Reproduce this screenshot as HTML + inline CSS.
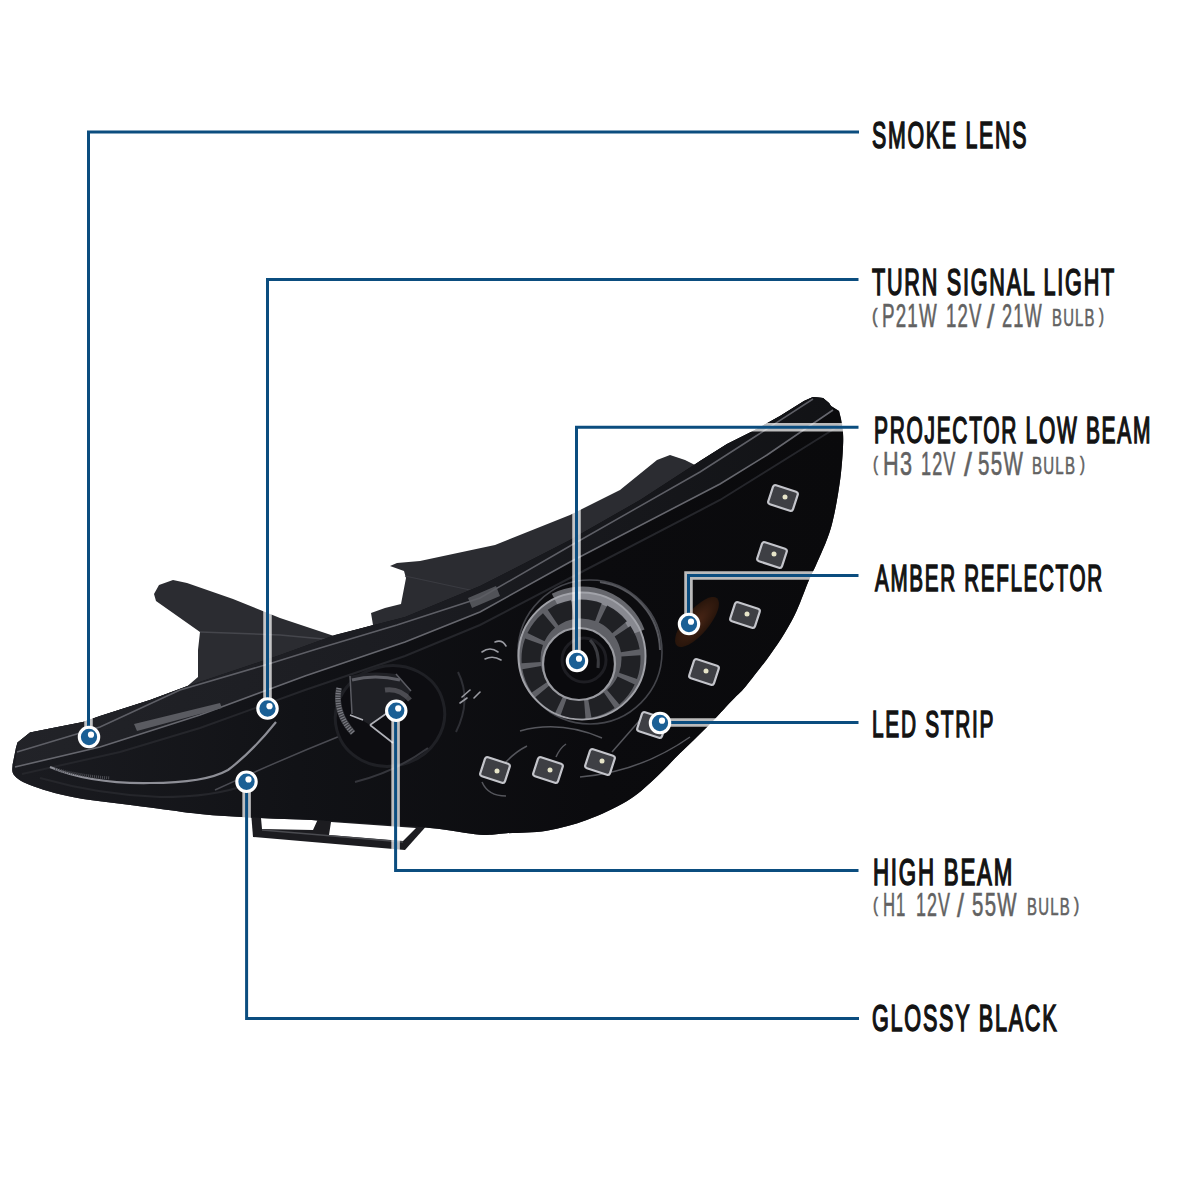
<!DOCTYPE html>
<html><head><meta charset="utf-8"><style>
html,body{margin:0;padding:0;background:#fff;}
body{width:1200px;height:1200px;position:relative;overflow:hidden;}
.tx{position:absolute;font-family:"Liberation Sans",sans-serif;font-weight:normal;-webkit-text-stroke:1.2px;line-height:1;white-space:pre;transform-origin:0 0;}
svg{position:absolute;left:0;top:0;}
</style></head><body>
<svg width="1200" height="1200" viewBox="0 0 1200 1200">
<defs>
<linearGradient id="lg" x1="0" y1="0" x2="850" y2="0" gradientUnits="userSpaceOnUse">
<stop offset="0" stop-color="#1b1c21"/><stop offset="0.35" stop-color="#111216"/><stop offset="0.7" stop-color="#0b0b0e"/><stop offset="1" stop-color="#0a0a0c"/>
</linearGradient>
<radialGradient id="amb" cx="0.5" cy="0.5" r="0.5"><stop offset="0" stop-color="#4a2616"/><stop offset="1" stop-color="#28150b"/></radialGradient>
<linearGradient id="rb" x1="0" y1="0" x2="850" y2="0" gradientUnits="userSpaceOnUse"><stop offset="0" stop-color="#222328"/><stop offset="0.5" stop-color="#1b1c21"/><stop offset="1" stop-color="#111215"/></linearGradient>
</defs>
<g id="body">
<path d="M251 812 L430 822 L405 850 L253 837 Z" fill="#1c1c20"/>
<path d="M261 818 L318 819 L313 830 L262 829 Z M331 822 L416 828 L403 841 L329 835 Z" fill="#fff"/>
<path d="M262 830 L403 842" stroke="#4a4b50" stroke-width="1.5" fill="none"/>
<path id="housing" fill="#2b2c31" d="M16 747.5 L17.5 742.5 L30 732.5 L50 728.5 L83 722 L100 716 L150 700 L187.5 686 L198 677 L198 650 L200 632 L156 601 L154 594 L159 585 L173 580 L187 583 L233 599 L280 618 L334 636 L373 625 L371 613 L385 608 L401 604 L406 578 L404 571 L390 566 L397 563 L420 561 L495 545 L570 515 L620 490 L657 460 L670 455 L685 460 L695 465 L700 461 L727 444 L753 431 L780 416 L804 401 L813 397 L823 398 L829 403 L831 406 L839 411 L841 419 C841.3 421.3 842.7 428.3 843.0 433.0 C843.3 437.7 843.3 440.3 843.0 447.0 C842.7 453.7 842.0 464.2 841.0 473.0 C840.0 481.8 838.5 491.5 837.0 500.0 C835.5 508.5 833.8 517.0 832.0 524.0 C830.2 531.0 828.7 535.2 826.0 542.0 C823.3 548.8 818.8 558.7 816.0 565.0 C813.2 571.3 812.2 572.5 809.0 580.0 C805.8 587.5 801.0 601.2 797.0 610.0 C793.0 618.8 789.5 625.0 785.0 632.5 C780.5 640.0 775.0 648.0 770.0 655.0 C765.0 662.0 759.5 668.8 755.0 674.5 C750.5 680.2 746.8 685.2 743.0 689.5 C739.2 693.8 738.5 693.8 732.5 700.0 C726.5 706.2 715.8 718.1 707.0 727.0 C698.2 735.9 689.0 744.5 680.0 753.3 C671.0 762.1 662.2 772.0 653.3 780.0 C644.4 788.0 637.8 794.6 626.7 801.3 C615.6 808.0 600.0 815.1 586.7 820.0 C573.4 824.9 560.0 828.5 546.7 830.7 C533.4 832.9 517.8 832.6 506.7 833.3 C495.6 834.0 492.8 835.6 480.0 834.7 C467.2 833.8 451.7 830.0 430.0 828.0 C408.3 826.0 371.7 823.9 350.0 822.5 C328.3 821.1 316.7 820.3 300.0 819.5 C283.3 818.7 266.7 818.4 250.0 817.5 C233.3 816.6 216.7 815.7 200.0 814.0 C183.3 812.3 170.8 810.2 150.0 807.5 C129.2 804.8 95.0 801.2 75.0 797.5 C55.0 793.8 40.2 788.8 30.0 785.0 C19.8 781.2 16.9 778.3 14.0 775.0 C11.1 771.7 12.8 766.7 12.5 765.0 Z"/>
<path d="M200 632 L280 635 L334 640" stroke="#45464c" stroke-width="1.5" fill="none"/>
<path d="M405 576 L470 590 L540 600" stroke="#3a3b41" stroke-width="1.2" fill="none"/>
<path id="lens" fill="url(#lg)" d="M16 747.5 L17.5 742.5 L30 732.5 L50 728.5 L83 722 L100 716 L150 700 L187.5 686 L280 655 L335 635 L405 617 L480 586 L570 540 L640 500 L700 461 L727 444 L753 431 L780 416 L804 401 L813 397 L823 398 L829 403 L831 406 L839 411 L841 419 C841.3 421.3 842.7 428.3 843.0 433.0 C843.3 437.7 843.3 440.3 843.0 447.0 C842.7 453.7 842.0 464.2 841.0 473.0 C840.0 481.8 838.5 491.5 837.0 500.0 C835.5 508.5 833.8 517.0 832.0 524.0 C830.2 531.0 828.7 535.2 826.0 542.0 C823.3 548.8 818.8 558.7 816.0 565.0 C813.2 571.3 812.2 572.5 809.0 580.0 C805.8 587.5 801.0 601.2 797.0 610.0 C793.0 618.8 789.5 625.0 785.0 632.5 C780.5 640.0 775.0 648.0 770.0 655.0 C765.0 662.0 759.5 668.8 755.0 674.5 C750.5 680.2 746.8 685.2 743.0 689.5 C739.2 693.8 738.5 693.8 732.5 700.0 C726.5 706.2 715.8 718.1 707.0 727.0 C698.2 735.9 689.0 744.5 680.0 753.3 C671.0 762.1 662.2 772.0 653.3 780.0 C644.4 788.0 637.8 794.6 626.7 801.3 C615.6 808.0 600.0 815.1 586.7 820.0 C573.4 824.9 560.0 828.5 546.7 830.7 C533.4 832.9 517.8 832.6 506.7 833.3 C495.6 834.0 492.8 835.6 480.0 834.7 C467.2 833.8 451.7 830.0 430.0 828.0 C408.3 826.0 371.7 823.9 350.0 822.5 C328.3 821.1 316.7 820.3 300.0 819.5 C283.3 818.7 266.7 818.4 250.0 817.5 C233.3 816.6 216.7 815.7 200.0 814.0 C183.3 812.3 170.8 810.2 150.0 807.5 C129.2 804.8 95.0 801.2 75.0 797.5 C55.0 793.8 40.2 788.8 30.0 785.0 C19.8 781.2 16.9 778.3 14.0 775.0 C11.1 771.7 12.8 766.7 12.5 765.0 Z"/>
<!-- rim band -->
<path fill="url(#rb)" d="M17.5 742.5 L30 732.5 L50 728.5 L83 722 L100 716 L150 700 L187.5 686 L280 655 L335 635 L405 617 L480 586 L570 540 L640 500 L700 461 L727 444 L753 431 L780 416 L804 401 L813 397 L823 398 L829 403 L833 410 L767 455 L720 484 L570 562 L480 612 L405 642 L305 676 L200 715 L100 747 L15 767 Z"/>
<path d="M17 752 L100 727 L180 690 L275 662 L320 648 L397 625 L480 598 L570 546 L700 472 L756 436 L813 399" stroke="#5e5f66" stroke-width="1.5" fill="none"/>
<path d="M15 767 L100 747 L200 715 L305 676 L405 642 L480 612 L570 562 L720 484 L767 455 L833 410" stroke="#66676e" stroke-width="1.6" fill="none"/>
<path d="M22 774 L120 752 L200 728 L305 690 L405 656 L480 625 L570 578 L720 500 L842 424" stroke="#25262b" stroke-width="2" fill="none"/>
<path d="M468 598 L496 586 L500 596 L472 608 Z" fill="#5c5d63" opacity="0.85"/>
<!-- turn signal reflector strip -->
<path d="M134 724 L220 703 L222 708 L137 731 Z" fill="#5a5b61"/>
<!-- turn signal bowl -->
<path d="M50 767 Q90 784 150 783 Q205 783 228 770 Q252 752 276 722" stroke="#8d8e96" stroke-width="2.2" fill="none"/>
<path d="M55 769 Q80 776 110 778" stroke="#48494f" stroke-width="3" fill="none" stroke-dasharray="1 1"/>
<path d="M40 778 Q100 795 160 797 Q215 797 245 785" stroke="#25262b" stroke-width="2" fill="none"/>
<path d="M215 790 Q280 760 340 736" stroke="#4a4b52" stroke-width="1.5" fill="none"/>
<!-- high beam -->
<ellipse cx="390" cy="716" rx="55" ry="50" transform="rotate(-15 390 716)" fill="#0d0d11" stroke="#1f2025" stroke-width="3"/>
<path d="M339 688 Q334 712 353 733" stroke="#3a3b40" stroke-width="6" fill="none"/>
<path d="M339 688 Q334 712 353 733" stroke="#7a7b82" stroke-width="5" fill="none" stroke-dasharray="1.2 1.3"/>
<path d="M350 676 Q372 670 396 674 L411 690 Q406 702 396 708 L370 725 L352 714 Z" fill="#1f2025"/>
<path d="M352 680 Q375 674 400 680" stroke="#5d5e65" stroke-width="3" fill="none"/>
<path d="M350 676 L352 714 M396 674 L411 691" stroke="#5a5b62" stroke-width="1.5" fill="none"/>
<path d="M385 690 Q400 688 410 700" stroke="#6a6b72" stroke-width="5" fill="none" opacity="0.6"/>
<path d="M350 715 L363 720 M370 725 L393 743 M370 725 L400 704" stroke="#b0b1b8" stroke-width="1.6" fill="none"/>
<path d="M355 782 Q395 772 428 748" stroke="#35363c" stroke-width="2" fill="none"/>
<path d="M458 672 Q472 700 456 732" stroke="#2e2f35" stroke-width="2" fill="none"/>
<!-- projector -->
<circle cx="590" cy="652" r="72" fill="#0c0c0f" stroke="#44454b" stroke-width="1.6"/>
<path d="M600 582 A70 70 0 0 1 660 650" stroke="#55565c" stroke-width="2" fill="none"/>
<circle cx="582" cy="656" r="63.5" fill="#5f6066" stroke="#a0a1a7" stroke-width="2"/>
<path d="M555 600 A60 60 0 0 1 638 632" stroke="#a4a5ab" stroke-width="14" fill="none" opacity="0.6"/>
<circle cx="581" cy="659" r="50" fill="none" stroke="#1b1c20" stroke-width="19" stroke-dasharray="21.2 5" stroke-dashoffset="4" opacity="0.93"/>
<circle cx="579" cy="664" r="36" fill="#0a0a0d" stroke="#9a9ba1" stroke-width="2.2"/>
<circle cx="584" cy="660" r="22" fill="none" stroke="#1e1e23" stroke-width="3"/>
<path d="M590 640 Q600 650 598 668" stroke="#3a3b40" stroke-width="3" fill="none"/>
<!-- amber -->
<ellipse cx="697" cy="622" rx="31" ry="12" transform="rotate(-50 697 622)" fill="url(#amb)"/>
<!-- small chrome bits & wires -->
<g stroke="#9a9ba2" stroke-width="1.6" fill="none" stroke-linecap="round">
<path d="M482 652 Q490 646 498 652"/><path d="M485 659 Q493 655 501 660"/><path d="M495 642 Q502 639 506 646"/>
<path d="M462 697 L470 690"/><path d="M460 703 L467 698"/><path d="M474 698 L480 692"/>
</g>
<g stroke="#55565c" stroke-width="1.5" fill="none">
<path d="M505 763 Q515 752 527 746"/>
<path d="M612 752 L640 720"/>
<path d="M482 782 Q488 796 506 796"/>
<path d="M520 731 Q560 720 602 738"/>
<path d="M580 777 Q640 772 690 737"/>
<path d="M556 757 Q560 748 566 744"/>
</g>
<!-- LEDs -->
<g fill="#3e3f44" stroke="#c4c5cb" stroke-width="2.2">
<rect x="-13" y="-10" width="26" height="20" rx="2.5" transform="translate(783 498) rotate(18)"/>
<rect x="-13" y="-10" width="26" height="20" rx="2.5" transform="translate(772 555) rotate(18)"/>
<rect x="-13" y="-10" width="26" height="20" rx="2.5" transform="translate(745 615) rotate(18)"/>
<rect x="-13" y="-10" width="26" height="20" rx="2.5" transform="translate(704 672) rotate(18)"/>
<rect x="-13" y="-10" width="26" height="20" rx="2.5" transform="translate(652 725) rotate(18)"/>
<rect x="-13" y="-10" width="26" height="20" rx="2.5" transform="translate(600 762) rotate(18)"/>
<rect x="-13" y="-10" width="26" height="20" rx="2.5" transform="translate(548 770) rotate(18)"/>
<rect x="-13" y="-10" width="26" height="20" rx="2.5" transform="translate(495 770) rotate(18)"/>
</g>
<g fill="#e6e4c8">
<circle cx="785" cy="497" r="2.5"/><circle cx="774" cy="554" r="2.5"/><circle cx="747" cy="614" r="2.5"/><circle cx="706" cy="671" r="2.5"/><circle cx="602" cy="761" r="2.5"/><circle cx="550" cy="770" r="2.5"/><circle cx="497" cy="771" r="2.5"/>
</g>
</g>

<g id="callouts" fill="none" stroke-linejoin="miter" stroke-linecap="butt">
<g stroke="rgba(255,255,255,0.72)" stroke-width="8.5">
<path d="M88.5 737V132H859"/>
<path d="M267.5 708.5V279.5H858.5"/>
<path d="M576.5 661V427.3H858.5"/>
<path d="M688.5 624V575.4H858.5"/>
<path d="M660 722.6H858.5"/>
<path d="M395.6 710.75V870.4H858.5"/>
<path d="M246.6 781.75V1018.4H859"/>
</g>
<g stroke="#0b4d7f" stroke-width="3">
<path d="M88.5 737V132H859"/>
<path d="M267.5 708.5V279.5H858.5"/>
<path d="M576.5 661V427.3H858.5"/>
<path d="M688.5 624V575.4H858.5"/>
<path d="M660 722.6H858.5"/>
<path d="M395.6 710.75V870.4H858.5"/>
<path d="M246.6 781.75V1018.4H859"/>
</g>
</g>
<g id="dots">
<g transform="translate(89 737)"><circle r="9.7" fill="#1a5f95" stroke="#fff" stroke-width="3.1"/><circle cx="2" cy="-2.3" r="3.1" fill="#fff"/></g>
<g transform="translate(267.5 708.5)"><circle r="9.7" fill="#1a5f95" stroke="#fff" stroke-width="3.1"/><circle cx="2" cy="-2.3" r="3.1" fill="#fff"/></g>
<g transform="translate(577 661)"><circle r="9.7" fill="#1a5f95" stroke="#fff" stroke-width="3.1"/><circle cx="2" cy="-2.3" r="3.1" fill="#fff"/></g>
<g transform="translate(689 624)"><circle r="9.7" fill="#1a5f95" stroke="#fff" stroke-width="3.1"/><circle cx="2" cy="-2.3" r="3.1" fill="#fff"/></g>
<g transform="translate(660 723)"><circle r="9.7" fill="#1a5f95" stroke="#fff" stroke-width="3.1"/><circle cx="2" cy="-2.3" r="3.1" fill="#fff"/></g>
<g transform="translate(396.25 710.75)"><circle r="9.7" fill="#1a5f95" stroke="#fff" stroke-width="3.1"/><circle cx="2" cy="-2.3" r="3.1" fill="#fff"/></g>
<g transform="translate(246.5 781.75)"><circle r="9.7" fill="#1a5f95" stroke="#fff" stroke-width="3.1"/><circle cx="2" cy="-2.3" r="3.1" fill="#fff"/></g>
</g>

</svg>
<div class="tx" style="left:872.42px;top:116.70px;font-size:37.0px;color:#131313;-webkit-text-stroke:1.6px #131313;letter-spacing:3px;transform:scaleX(0.5771)">SMOKE LENS</div>
<div class="tx" style="left:872.00px;top:263.50px;font-size:37.0px;color:#131313;-webkit-text-stroke:1.6px #131313;letter-spacing:3px;transform:scaleX(0.5843)">TURN SIGNAL LIGHT</div>
<div class="tx" style="left:873.87px;top:411.50px;font-size:37.0px;color:#131313;-webkit-text-stroke:1.6px #131313;letter-spacing:3px;transform:scaleX(0.5661)">PROJECTOR LOW BEAM</div>
<div class="tx" style="left:874.56px;top:559.50px;font-size:37.0px;color:#131313;-webkit-text-stroke:1.6px #131313;letter-spacing:3px;transform:scaleX(0.5576)">AMBER REFLECTOR</div>
<div class="tx" style="left:871.87px;top:705.50px;font-size:37.0px;color:#131313;-webkit-text-stroke:1.6px #131313;letter-spacing:3px;transform:scaleX(0.5637)">LED STRIP</div>
<div class="tx" style="left:872.80px;top:853.50px;font-size:37.0px;color:#131313;-webkit-text-stroke:1.6px #131313;letter-spacing:3px;transform:scaleX(0.6013)">HIGH BEAM</div>
<div class="tx" style="left:872.42px;top:1000.00px;font-size:37.0px;color:#131313;-webkit-text-stroke:1.6px #131313;letter-spacing:3px;transform:scaleX(0.5839)">GLOSSY BLACK</div>
<div class="tx" style="left:872.17px;top:305.90px;font-size:20px;color:#626262;-webkit-text-stroke:0.6px #626262;letter-spacing:2px;transform:scaleX(0.8333)">(</div>
<div class="tx" style="left:881.84px;top:299.90px;font-size:32.3px;color:#626262;-webkit-text-stroke:0.6px #626262;letter-spacing:2px;transform:scaleX(0.5815)">P21W</div>
<div class="tx" style="left:945.85px;top:299.90px;font-size:32.3px;color:#626262;-webkit-text-stroke:0.6px #626262;letter-spacing:2px;transform:scaleX(0.5750)">12V</div>
<div class="tx" style="left:987.00px;top:300.90px;font-size:32.3px;color:#626262;-webkit-text-stroke:0.6px #626262;letter-spacing:2px;transform:scaleX(0.8333)">/</div>
<div class="tx" style="left:1002.44px;top:299.90px;font-size:32.3px;color:#626262;-webkit-text-stroke:0.6px #626262;letter-spacing:2px;transform:scaleX(0.5643)">21W</div>
<div class="tx" style="left:1051.79px;top:305.90px;font-size:24.6px;color:#626262;-webkit-text-stroke:0.6px #626262;letter-spacing:2px;transform:scaleX(0.6045)">BULB</div>
<div class="tx" style="left:1099.00px;top:305.90px;font-size:20px;color:#626262;-webkit-text-stroke:0.6px #626262;letter-spacing:2px;transform:scaleX(0.7500)">)</div>
<div class="tx" style="left:872.75px;top:453.60px;font-size:20px;color:#626262;-webkit-text-stroke:0.6px #626262;letter-spacing:2px;transform:scaleX(0.7500)">(</div>
<div class="tx" style="left:883.36px;top:447.60px;font-size:32.3px;color:#626262;-webkit-text-stroke:0.6px #626262;letter-spacing:2px;transform:scaleX(0.6700)">H3</div>
<div class="tx" style="left:920.88px;top:447.60px;font-size:32.3px;color:#626262;-webkit-text-stroke:0.6px #626262;letter-spacing:2px;transform:scaleX(0.5583)">12V</div>
<div class="tx" style="left:963.60px;top:448.60px;font-size:32.3px;color:#626262;-webkit-text-stroke:0.6px #626262;letter-spacing:2px;transform:scaleX(0.8778)">/</div>
<div class="tx" style="left:978.36px;top:447.60px;font-size:32.3px;color:#626262;-webkit-text-stroke:0.6px #626262;letter-spacing:2px;transform:scaleX(0.6357)">55W</div>
<div class="tx" style="left:1031.78px;top:453.60px;font-size:24.6px;color:#626262;-webkit-text-stroke:0.6px #626262;letter-spacing:2px;transform:scaleX(0.6119)">BULB</div>
<div class="tx" style="left:1079.50px;top:453.60px;font-size:20px;color:#626262;-webkit-text-stroke:0.6px #626262;letter-spacing:2px;transform:scaleX(0.7500)">)</div>
<div class="tx" style="left:872.55px;top:895.10px;font-size:20px;color:#626262;-webkit-text-stroke:0.6px #626262;letter-spacing:2px;transform:scaleX(0.7500)">(</div>
<div class="tx" style="left:882.76px;top:889.10px;font-size:32.3px;color:#626262;-webkit-text-stroke:0.6px #626262;letter-spacing:2px;transform:scaleX(0.5175)">H1</div>
<div class="tx" style="left:915.69px;top:889.10px;font-size:32.3px;color:#626262;-webkit-text-stroke:0.6px #626262;letter-spacing:2px;transform:scaleX(0.5533)">12V</div>
<div class="tx" style="left:957.00px;top:890.10px;font-size:32.3px;color:#626262;-webkit-text-stroke:0.6px #626262;letter-spacing:2px;transform:scaleX(0.7778)">/</div>
<div class="tx" style="left:972.07px;top:889.10px;font-size:32.3px;color:#626262;-webkit-text-stroke:0.6px #626262;letter-spacing:2px;transform:scaleX(0.6329)">55W</div>
<div class="tx" style="left:1026.59px;top:895.10px;font-size:24.6px;color:#626262;-webkit-text-stroke:0.6px #626262;letter-spacing:2px;transform:scaleX(0.6075)">BULB</div>
<div class="tx" style="left:1073.60px;top:895.10px;font-size:20px;color:#626262;-webkit-text-stroke:0.6px #626262;letter-spacing:2px;transform:scaleX(0.7833)">)</div>
</body></html>
